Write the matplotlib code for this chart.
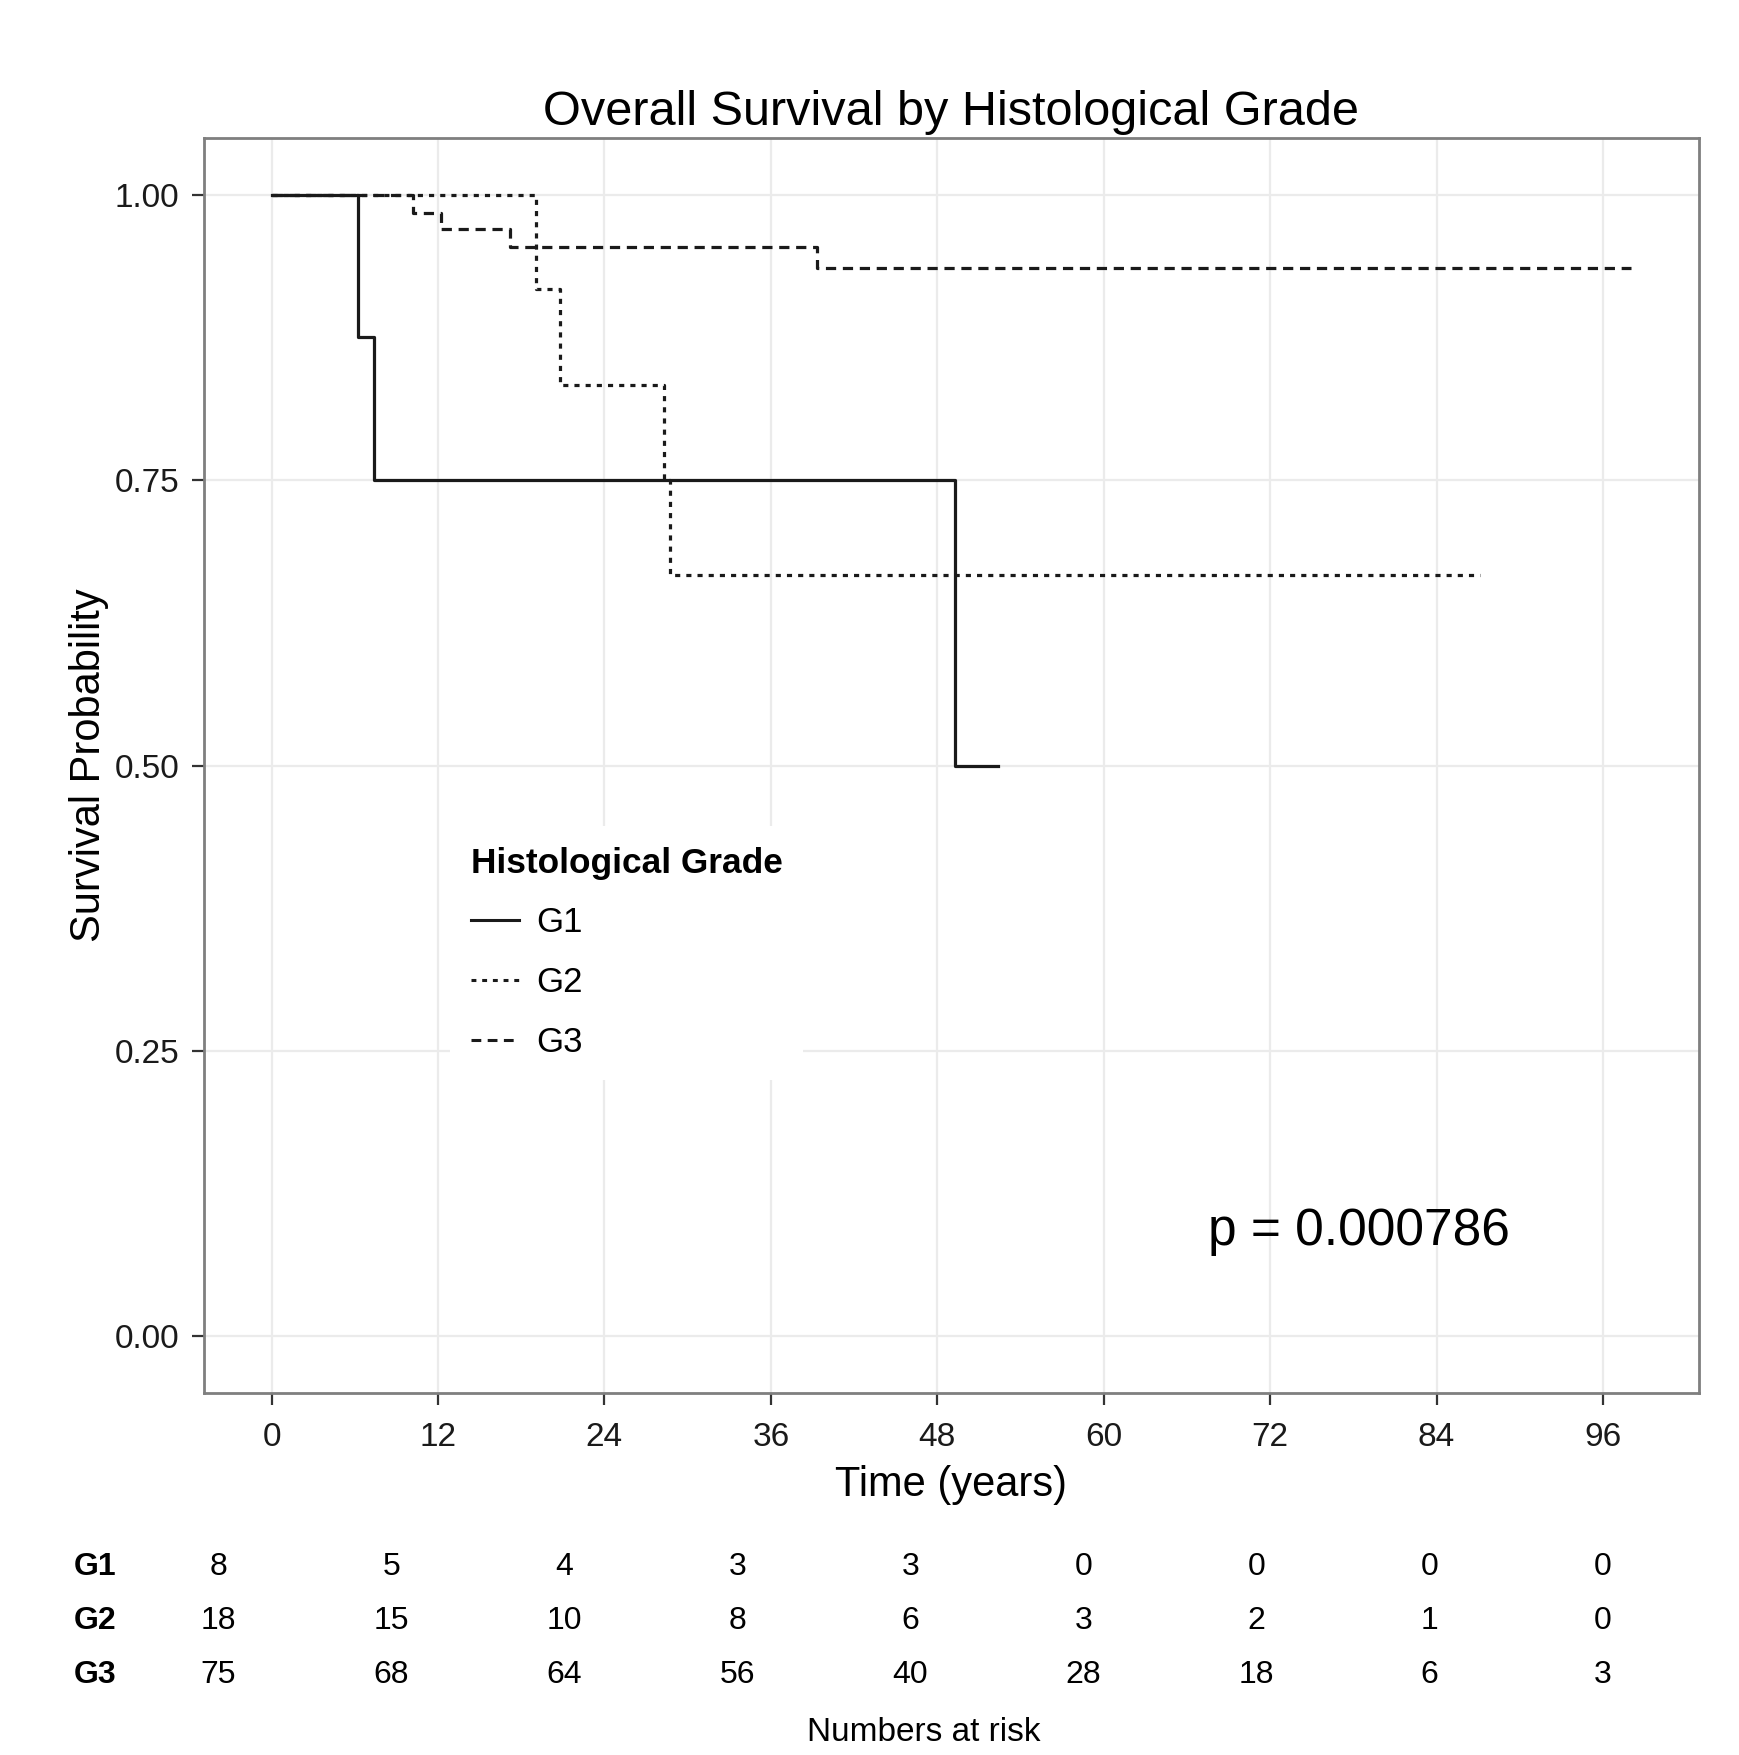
import matplotlib
matplotlib.use("Agg")
import matplotlib.pyplot as plt
import matplotlib.transforms as mtransforms
from matplotlib.lines import Line2D

plt.rcParams['font.family'] = ['Liberation Sans', 'DejaVu Sans']

# Kaplan-Meier step data
groups = ["G1", "G2", "G3"]
g1_times = [0, 6.2, 7.4, 49.3]
g1_surv = [1.0, 0.875, 0.75, 0.5]
g1_end = 52.4
g2_times = [0, 19.1, 20.8, 28.3, 28.7]
g2_surv = [1.0, 0.917, 0.833, 0.75, 0.667]
g2_end = 87.1
g3_times = [0, 10.2, 12.2, 17.2, 39.3]
g3_surv = [1.0, 0.984, 0.970, 0.954, 0.936]
g3_end = 98.0

risk_times = [0, 12, 24, 36, 48, 60, 72, 84, 96]
risk_g1 = [8, 5, 4, 3, 3, 0, 0, 0, 0]
risk_g2 = [18, 15, 10, 8, 6, 3, 2, 1, 0]
risk_g3 = [75, 68, 64, 56, 40, 28, 18, 6, 3]

p_text = "p = 0.000786"

W, H = 1739, 1755
fig = plt.figure(figsize=(W / 200, H / 200), dpi=200)

# main panel
ax = fig.add_axes([0.1171, 0.2060, 0.9768 - 0.1171, 0.9216 - 0.2060])
ax.set_xlim(-4.9, 102.9)
ax.set_ylim(-0.05, 1.05)
ax.set_xticks(risk_times)
ax.set_yticks([0, 0.25, 0.5, 0.75, 1.0])
ax.set_yticklabels(["0.00", "0.25", "0.50", "0.75", "1.00"])
ax.grid(True, color="#EBEBEB", linewidth=0.8)
ax.set_axisbelow(True)
for sp in ax.spines.values():
    sp.set_color("#7f7f7f")
    sp.set_linewidth(1.0)
ax.tick_params(length=4.3, width=0.8, color="#333333", labelsize=12, pad=4.5,
               labelcolor="#1a1a1a")
ax.tick_params(axis="x", pad=5.8)

dot = (0, (1.6, 1.9))
dash = (0, (3.2, 2.1))
styles = ["-", dot, dash]
series = [(g1_times, g1_surv, g1_end), (g2_times, g2_surv, g2_end), (g3_times, g3_surv, g3_end)]
for name, ls, (t, s, end) in zip(groups, styles, series):
    ax.step(t + [end], s + [s[-1]], where="post", color="#1a1a1a", linestyle=ls,
            linewidth=1.15, label=name)

handles = [Line2D([0], [0], color="#1a1a1a", linestyle=ls, linewidth=1.1) for ls in styles]
leg = ax.legend(handles, groups, title="Histological Grade", loc="upper left",
                bbox_to_anchor=(0.1647, 0.452), borderaxespad=0, borderpad=0.6,
                fontsize=12.5, title_fontproperties={"weight": "bold", "size": 12.7},
                frameon=True, fancybox=False, framealpha=1, facecolor="white",
                edgecolor="none", handlelength=1.4, handletextpad=0.5,
                labelspacing=0.77, alignment="left")

ax.text(67.5, 0.092, p_text, fontsize=18.5, ha="left", va="center", color="black")

ax.set_title("Overall Survival by Histological Grade", fontsize=17.5, pad=4.5)
ax.set_xlabel("Time (years)", fontsize=15, labelpad=4.5)
ax.set_ylabel("Survival Probability", fontsize=15, labelpad=2)

# numbers at risk table
row_y = [0.107, 0.0763, 0.0457]
tab = fig.add_axes([132 / 1554, row_y[2] - 0.01535, (1521 - 132) / 1554, row_y[0] - row_y[2] + 0.0307])
tab.set_xlim(-4.9, 102.9)
tab.set_ylim(-0.5, 2.5)
tab.axis("off")
trans = mtransforms.blended_transform_factory(fig.transFigure, tab.transData)
for i, (name, counts) in enumerate(zip(groups, [risk_g1, risk_g2, risk_g3])):
    yv = 2 - i
    tab.text(0.0669, yv, name, transform=trans, ha="right", va="center",
             fontsize=11.5, fontweight="bold")
    for t, c in zip(risk_times, counts):
        tab.text(t, yv, str(c), ha="center", va="center", fontsize=11.5)

fig.text(0.531, 0.004, "Numbers at risk", ha="center", va="bottom", fontsize=12)

fig.savefig("out.png", dpi=200)
